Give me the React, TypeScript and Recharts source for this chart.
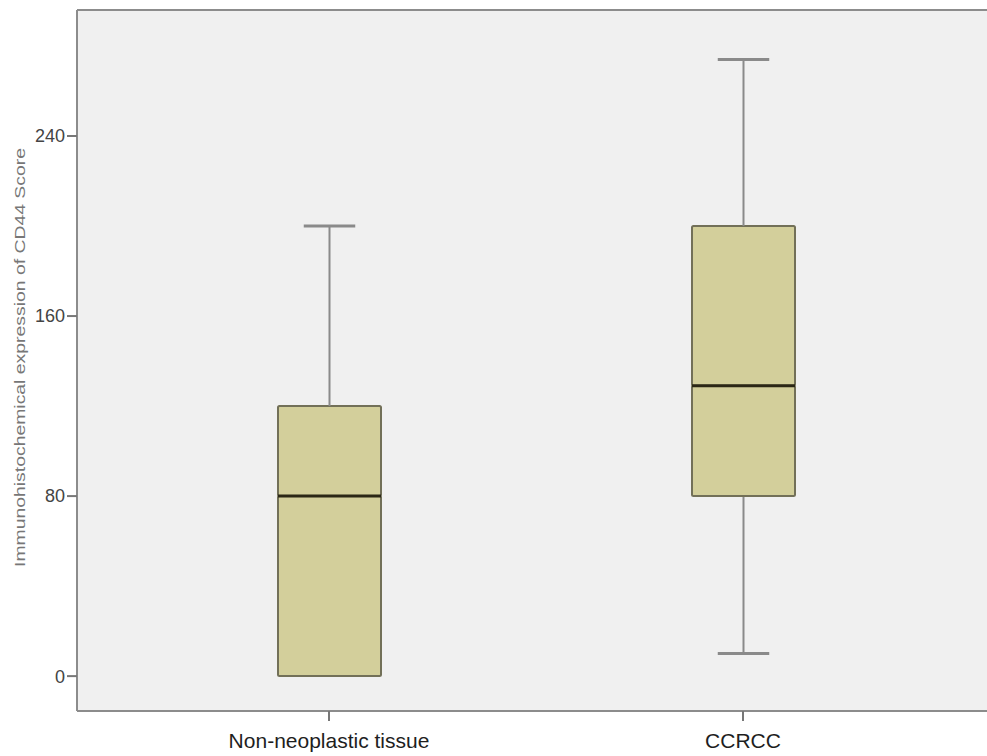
import React from "react";
import {
  ComposedChart,
  Bar,
  XAxis,
  YAxis,
  CartesianGrid,
  ReferenceLine,
} from "recharts";

/* ---------------- DATA ---------------- */
const categories = ["Non-neoplastic tissue", "CCRCC"];
const minValues = [0, 10];
const q1Values = [0, 80];
const medianValues = [80, 129];
const q3Values = [120, 200];
const maxValues = [200, 274];
const yTicks = [0, 80, 160, 240];
const yDomain: [number, number] = [-15.5, 296];

/* stacked segments: invisible base, lower whisker, lower box, upper box, upper whisker */
const data = categories.map((name, i) => ({
  name,
  base: minValues[i],
  lowWhisker: q1Values[i] - minValues[i],
  lowBox: medianValues[i] - q1Values[i],
  highBox: q3Values[i] - medianValues[i],
  highWhisker: maxValues[i] - q3Values[i],
}));

/* ---------------- STYLE ---------------- */
const boxFill = "#d3cf9b";
const boxStroke = "#727058";
const whiskerColor = "#8a8a8a";
const medianColor = "#2b2715";
const axisColor = "#8c8c8c";

/* ---------------- SHAPES ---------------- */
const Empty = () => <g />;

const LowWhisker = (p: any) => {
  const { x, y, width, height } = p;
  if (!height || height <= 0) return <g />;
  const cx = x + width / 2;
  return (
    <g>
      <line x1={cx} x2={cx} y1={y} y2={y + height} stroke={whiskerColor} strokeWidth={2} />
      <line x1={x + width / 4} x2={x + (3 * width) / 4} y1={y + height} y2={y + height} stroke={whiskerColor} strokeWidth={3} />
    </g>
  );
};

const HighWhisker = (p: any) => {
  const { x, y, width, height } = p;
  if (!height || height <= 0) return <g />;
  const cx = x + width / 2;
  return (
    <g>
      <line x1={cx} x2={cx} y1={y} y2={y + height} stroke={whiskerColor} strokeWidth={2} />
      <line x1={x + width / 4} x2={x + (3 * width) / 4} y1={y} y2={y} stroke={whiskerColor} strokeWidth={3} />
    </g>
  );
};

const LowBox = (p: any) => {
  const { x, y, width, height } = p;
  if (!height || height <= 0) return <g />;
  return <rect x={x} y={y} width={width} height={height} fill={boxFill} stroke={boxStroke} strokeWidth={2} rx={1.5} />;
};

const HighBox = (p: any) => {
  const { x, y, width, height } = p;
  if (!height || height <= 0) return <g />;
  return (
    <g>
      <rect x={x} y={y} width={width} height={height} fill={boxFill} stroke={boxStroke} strokeWidth={2} rx={1.5} />
      <line x1={x} x2={x + width} y1={y + height} y2={y + height} stroke={medianColor} strokeWidth={3} />
    </g>
  );
};

/* y-axis title, slightly squeezed like the original */
const YTitle = () => (
  <text
    x={25}
    y={357.5}
    transform="rotate(-90 25 357.5)"
    textAnchor="middle"
    fontSize={15}
    fill="#777"
    fontFamily="'Liberation Sans', Arial, sans-serif"
    textLength={419}
    lengthAdjust="spacingAndGlyphs"
  >
    Immunohistochemical expression of CD44 Score
  </text>
);

/* ---------------- COMPONENT ---------------- */
export default function App() {
  return (
    <div style={{ position: "absolute", left: 0, top: 0, width: 987, height: 756, background: "#fff" }}>
      <ComposedChart
        width={987}
        height={756}
        data={data}
        margin={{ top: 10, right: 0, bottom: 0, left: 0 }}
        barCategoryGap={0}
        style={{ fontFamily: "'Liberation Sans', Arial, sans-serif" }}
      >
        <CartesianGrid horizontal={false} vertical={false} fill="#f0f0f0" />
        <XAxis
          dataKey="name"
          height={45}
          padding={{ left: 45, right: 37 }}
          tickSize={10}
          tickMargin={12}
          tick={{ fill: "#1e1e1e", fontSize: 21 }}
          axisLine={{ stroke: axisColor, strokeWidth: 2 }}
          tickLine={{ stroke: "#777", strokeWidth: 2 }}
        />
        <YAxis
          width={77}
          type="number"
          domain={yDomain}
          ticks={yTicks}
          tickSize={10}
          tickMargin={2}
          tick={{ fill: "#444", fontSize: 18 }}
          axisLine={{ stroke: axisColor, strokeWidth: 2 }}
          tickLine={{ stroke: "#777", strokeWidth: 2 }}
          label={<YTitle />}
        />
        <ReferenceLine y={yDomain[1]} stroke={axisColor} strokeWidth={2} ifOverflow="visible" />
        <Bar dataKey="base" stackId="box" barSize={103} shape={<Empty />} isAnimationActive={false} />
        <Bar dataKey="lowWhisker" stackId="box" barSize={103} shape={<LowWhisker />} isAnimationActive={false} />
        <Bar dataKey="lowBox" stackId="box" barSize={103} shape={<LowBox />} isAnimationActive={false} />
        <Bar dataKey="highBox" stackId="box" barSize={103} shape={<HighBox />} isAnimationActive={false} />
        <Bar dataKey="highWhisker" stackId="box" barSize={103} shape={<HighWhisker />} isAnimationActive={false} />
      </ComposedChart>
    </div>
  );
}
